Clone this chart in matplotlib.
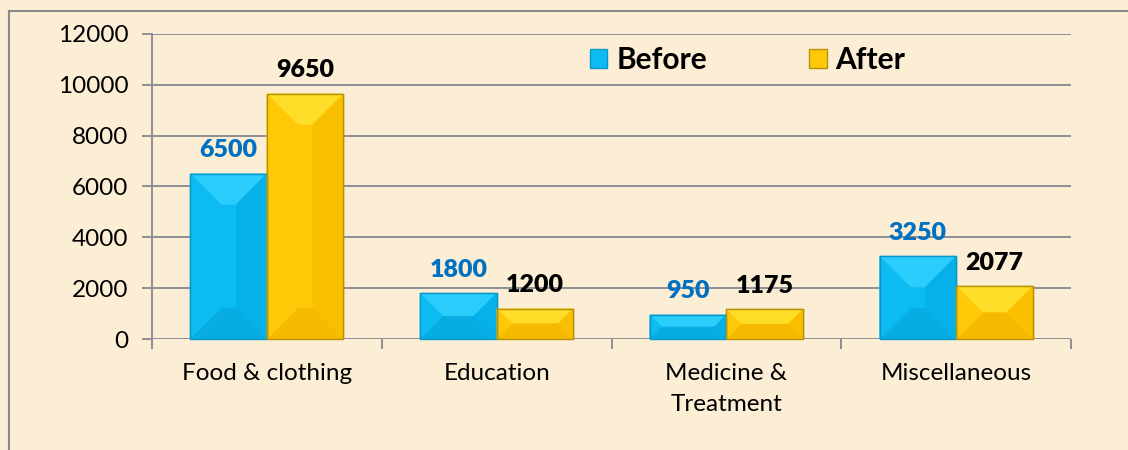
import matplotlib
matplotlib.use("Agg")
import matplotlib.pyplot as plt
from matplotlib.patches import Polygon, Patch
from matplotlib.lines import Line2D
from matplotlib.transforms import IdentityTransform
import numpy as np

categories = ["Food & clothing", "Education", "Medicine &\nTreatment", "Miscellaneous"]
before = [6500, 1800, 950, 3250]
after = [9650, 1200, 1175, 2077]
yticks = [0, 2000, 4000, 6000, 8000, 10000, 12000]

plt.rcParams['font.family'] = ['Lato', 'DejaVu Sans']

bg = "#FBEED5"
grid_c = "#8E8E96"
blue = {"face": "#0CBBF2", "top": "#2ACDFB", "bot": "#07ACE2", "left": "#0CBBF2", "right": "#06B0E8", "edge": "#0A96C8"}
gold = {"face": "#FFC908", "top": "#FFDE2A", "bot": "#F5BA00", "left": "#FFC908", "right": "#F9C000", "edge": "#B8900A"}

fig = plt.figure(figsize=(11.28, 4.5), dpi=100)
fig.patch.set_facecolor(bg)
ax = fig.add_axes([152/1128, 1-339/450, (1071-152)/1128, (339-34)/450])
ax.set_facecolor("none")

# outer chart border (top and left edges only visible)
fig.lines.append(Line2D([9/1128, 1.05], [1-11/450, 1-11/450], transform=fig.transFigure,
                        color="#8a8a8a", linewidth=1.5))
fig.lines.append(Line2D([9/1128, 9/1128], [-0.05, 1-11/450], transform=fig.transFigure,
                        color="#8a8a8a", linewidth=1.5))

x = np.arange(len(categories))
w = 1/3
b1 = ax.bar(x - w/2, before, w, color=blue["face"], edgecolor=blue["edge"], linewidth=1, zorder=3)
b2 = ax.bar(x + w/2, after, w, color=gold["face"], edgecolor=gold["edge"], linewidth=1, zorder=3)

ax.set_xlim(-0.5, len(categories) - 0.5)
ax.set_ylim(0, 12000)
ax.set_yticks(yticks)
ax.yaxis.grid(True, color=grid_c, linewidth=1.4, zorder=0)
ax.set_axisbelow(True)
for s in ["top", "right", "bottom"]:
    ax.spines[s].set_visible(False)
ax.spines["left"].set_color(grid_c)
ax.spines["left"].set_linewidth(1.4)
ax.tick_params(axis="y", length=7, width=1.4, color=grid_c, labelsize=17.5, pad=10)
ax.set_xticks(x)
ax.set_xticklabels(categories, fontsize=17.5, linespacing=1.6)
ax.tick_params(axis="x", which="major", length=0, pad=17)
ax.set_xticks(np.arange(len(categories) + 1) - 0.5, minor=True)
ax.tick_params(axis="x", which="minor", length=7, width=1.4, color=grid_c)

# bevel shading computed from the drawn bars
fig.canvas.draw()
def bevel(bars, pal):
    for r in bars:
        x0, y0 = ax.transData.transform((r.get_x(), 0))
        x1, y1 = ax.transData.transform((r.get_x() + r.get_width(), r.get_height()))
        d = min((x1 - x0) * 0.4, (y1 - y0) / 2)
        xm0, xm1, ym0, ym1 = x0 + d, x1 - d, y0 + d, y1 - d
        polys = [
            ([(x0, y1), (x1, y1), (xm1, ym1), (xm0, ym1)], pal["top"]),
            ([(x0, y0), (x1, y0), (xm1, ym0), (xm0, ym0)], pal["bot"]),
            ([(x0, y0), (xm0, ym0), (xm0, ym1), (x0, y1)], pal["left"]),
            ([(x1, y0), (xm1, ym0), (xm1, ym1), (x1, y1)], pal["right"]),
        ]
        for pts, c in polys:
            fig.patches.append(Polygon(pts, closed=True, facecolor=c, edgecolor=c, linewidth=0.3,
                                       transform=IdentityTransform(), zorder=4))
        fig.patches.append(Polygon([(x0, y0), (x1, y0), (x1, y1), (x0, y1)], closed=True,
                                   facecolor="none", edgecolor=pal["edge"], linewidth=1,
                                   transform=IdentityTransform(), zorder=5))
bevel(b1, blue)
bevel(b2, gold)

for r, v in zip(b1, before):
    ax.annotate(str(v), (r.get_x() + r.get_width()/2, v), xytext=(0, 9), textcoords="offset points",
                ha="center", va="bottom", fontsize=18, fontweight="heavy", color="#0070C0")
for r, v in zip(b2, after):
    ax.annotate(str(v), (r.get_x() + r.get_width()/2, v), xytext=(0, 9), textcoords="offset points",
                ha="center", va="bottom", fontsize=18, fontweight="heavy", color="black")

handles = [Patch(facecolor=blue["face"], edgecolor=blue["edge"], label="Before"),
           Patch(facecolor=gold["face"], edgecolor=gold["edge"], label="After")]
leg = ax.legend(handles=handles, loc="center", bbox_to_anchor=(0.648, 0.915), ncol=2, frameon=False,
                prop={"size": 21.5, "weight": "bold"}, handlelength=0.6, handleheight=0.6,
                handletextpad=0.3, columnspacing=3.4)

fig.savefig("out.png", dpi=100, facecolor=bg)
